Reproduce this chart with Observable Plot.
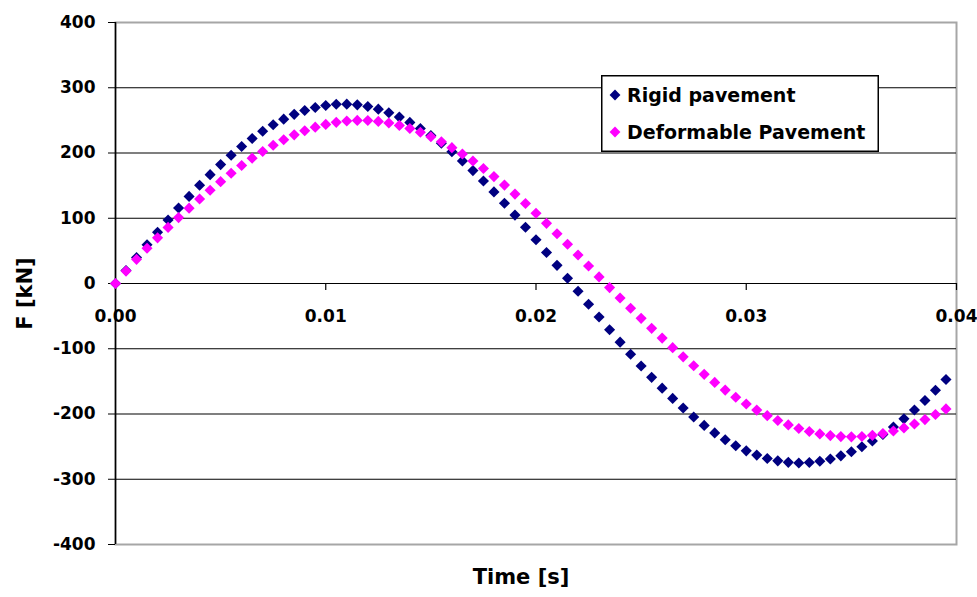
<!DOCTYPE html>
<html><head><meta charset="utf-8">
<script src="https://cdn.jsdelivr.net/npm/d3@7"></script>
<script src="https://cdn.jsdelivr.net/npm/@observablehq/plot@0.6"></script>
<style>
body{margin:0;background:#fff;}
#wrap{position:relative;width:977px;height:597px;}
#chart svg text{font-weight:bold;}
#legend{position:absolute;left:601px;top:75px;}
</style></head><body>
<div id="wrap"><div id="chart"></div><div id="legend"></div></div>
<script>
// Time [s]
const time = [0,0.0005,0.001,0.0015,0.002,0.0025,0.003,0.0035,0.004,0.0045,
0.005,0.0055,0.006,0.0065,0.007,0.0075,0.008,0.0085,0.009,0.0095,
0.01,0.0105,0.011,0.0115,0.012,0.0125,0.013,0.0135,0.014,0.0145,
0.015,0.0155,0.016,0.0165,0.017,0.0175,0.018,0.0185,0.019,0.0195,
0.02,0.0205,0.021,0.0215,0.022,0.0225,0.023,0.0235,0.024,0.0245,
0.025,0.0255,0.026,0.0265,0.027,0.0275,0.028,0.0285,0.029,0.0295,
0.03,0.0305,0.031,0.0315,0.032,0.0325,0.033,0.0335,0.034,0.0345,
0.035,0.0355,0.036,0.0365,0.037,0.0375,0.038,0.0385,0.039,0.0395];
// F [kN] – Rigid pavement
const rigid = [0,19.9,39.7,59.3,78.5,97.4,115.7,133.5,150.5,166.8,
182.2,196.6,210.0,222.3,233.4,243.3,251.9,259.2,265.2,269.8,
272.9,274.6,274.9,273.8,271.2,267.2,261.8,255.0,246.9,237.5,
226.8,214.9,202.0,187.9,173.0,157.1,140.4,122.9,104.8,86.1,
67.0,47.5,27.8,8.0,-11.9,-31.8,-51.4,-70.9,-89.9,-108.5,
-126.5,-143.8,-160.4,-176.1,-190.9,-204.7,-217.5,-229.0,-239.5,-248.6,
-256.5,-263.0,-268.1,-271.8,-274.1,-275.0,-274.4,-272.4,-269.0,-264.1,
-257.9,-250.3,-241.4,-231.3,-219.9,-207.4,-193.8,-179.2,-163.6,-147.1];
// F [kN] – Deformable Pavement
const deformable = [0,19,37,54,70,86,101,115.5,129.5,143,
156.1,168.9,180.9,192.1,202.4,211.9,220.3,227.8,234.2,239.6,
243.8,247.0,249.0,250.0,249.7,248.4,245.9,242.3,237.6,231.8,
224.9,217.1,208.2,198.4,187.8,176.2,163.8,150.8,137.0,122.6,
107.6,92.2,76.3,60.1,43.6,26.9,10.1,-6.3,-22.2,-37.9,
-53.4,-68.7,-83.7,-98.3,-112.4,-126.1,-139.2,-151.6,-163.4,-174.4,
-184.6,-194.0,-202.5,-210.0,-216.7,-222.3,-226.9,-230.5,-233.1,-234.6,
-235.0,-234.4,-232.7,-229.9,-226.1,-221.3,-215.4,-208.6,-200.8,-192.2];

const seriesNames = ["Rigid pavement", "Deformable Pavement"];
const seriesColors = ["#000080", "#ff00ff"];
const xTicks = [0, 0.01, 0.02, 0.03, 0.04];
const yTicks = [-400, -300, -200, -100, 0, 100, 200, 300, 400];
const gridValues = [-300, -200, -100, 0, 100, 200, 300];
const xTitle = "Time [s]";
const yTitle = "F [kN]";

const rigidRows = time.map((t, i) => ({t, f: rigid[i]}));
const deformRows = time.map((t, i) => ({t, f: deformable[i]}));

const chart = Plot.plot({
  width: 977, height: 597,
  marginLeft: 115, marginRight: 21, marginTop: 22, marginBottom: 53,
  style: {fontFamily: "DejaVu Sans", fontSize: "17px", color: "#000", background: "#fff"},
  x: {domain: [0, 0.04], axis: null},
  y: {domain: [-400, 400], axis: null},
  marks: [
    Plot.frame({stroke: "#a6a6a6", strokeWidth: 2}),
    Plot.ruleY(gridValues, {stroke: "#000", strokeWidth: 1.2}),
    Plot.ruleX([0], {stroke: "#000", strokeWidth: 1.5}),
    Plot.axisY(yTicks, {anchor: "left", tickSize: 7, tickPadding: 13, tickFormat: d => String(d),
      fontSize: 17, fontWeight: "bold", label: null, stroke: "#000", fill: "#000"}),
    Plot.ruleX(xTicks, {x: d => d, y1: 0, y2: -10.7, stroke: "#000", strokeWidth: 1.2}),
    Plot.text(xTicks, {x: d => d, y: 0, dy: 33, text: d => d.toFixed(2), fontSize: 17, fontWeight: "bold", fill: "#000"}),
    Plot.dot(rigidRows, {x: "t", y: "f", symbol: "diamond2", r: 5, fill: seriesColors[0]}),
    Plot.dot(deformRows, {x: "t", y: "f", symbol: "diamond2", r: 5, fill: seriesColors[1]}),
    Plot.text([xTitle], {frameAnchor: "bottom", textAnchor: "middle", lineAnchor: "middle", dy: 33, dx: -15, fontSize: 21, fontWeight: "bold", fill: "#000"}),
    Plot.text([yTitle], {frameAnchor: "left", textAnchor: "middle", lineAnchor: "middle", dx: -90, dy: 10, rotate: -90, fontSize: 21, fontWeight: "bold", fill: "#000"})
  ]
});
document.getElementById("chart").appendChild(chart);

// Legend
const lg = d3.select("#legend").append("svg").attr("width", 280).attr("height", 80);
lg.append("rect").attr("x", 0.75).attr("y", 0.75).attr("width", 276.5).attr("height", 75.5)
  .attr("fill", "#fff").attr("stroke", "#000").attr("stroke-width", 1.5);
const rowsY = [20, 57];
seriesNames.forEach((name, i) => {
  const cy = rowsY[i];
  lg.append("path").attr("d", d3.symbol(d3.symbolDiamond2, 75)())
    .attr("transform", `translate(14,${cy})`).attr("fill", seriesColors[i]);
  lg.append("text").attr("x", 26).attr("y", cy).attr("dy", "0.36em")
    .attr("font-family", "DejaVu Sans").attr("font-weight", "bold").attr("font-size", 19)
    .attr("fill", "#000").text(name);
});
</script>
</body></html>
